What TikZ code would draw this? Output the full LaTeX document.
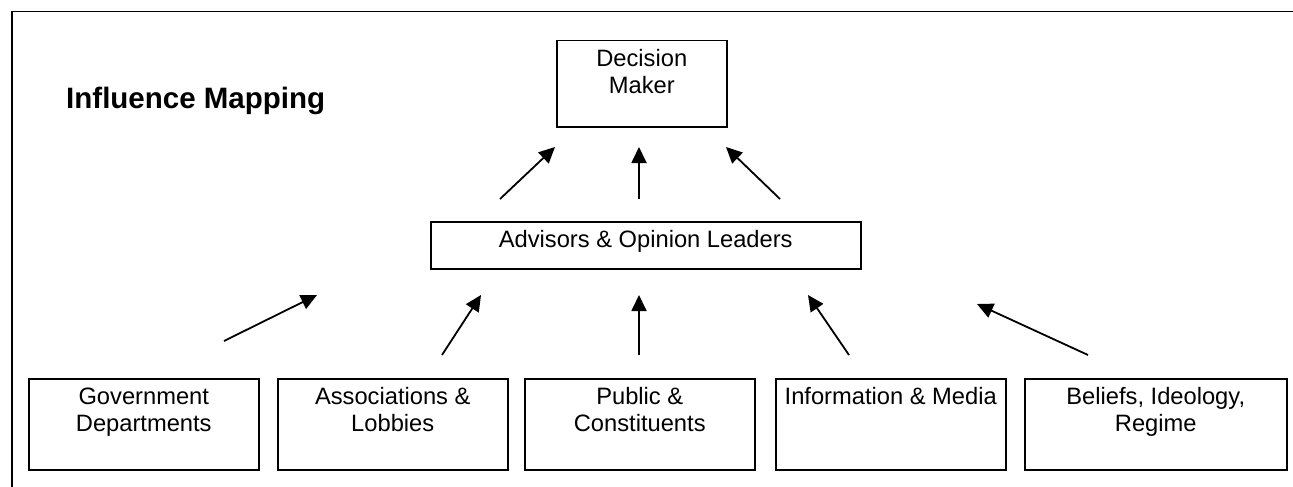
\documentclass[tikz,border=0pt]{standalone}
\usepackage{fontspec}
\setmainfont{Liberation Sans}
\usetikzlibrary{arrows.meta}
\newcommand{\boxtext}[3]{\parbox[t][#2pt][t]{#1pt}{\centering\rule{0pt}{26pt}#3}}
\tikzset{
  box/.style={draw, line width=1.5pt, inner sep=0pt, anchor=north west,
    font=\fontsize{23.7}{27}\selectfont},
  influence/.style={-{Triangle[length=16pt,width=15pt]}, line width=1.8pt},
}
\begin{document}
\begin{tikzpicture}[x=1pt, y=-1pt]
      \useasboundingbox (0,0) rectangle (1293,487);
      \draw[line width=1.5pt] (12,487) -- (12,11.5) -- (1293,11.5);
      \node[anchor=base west, inner sep=0pt, font=\bfseries\fontsize{29.5}{34}\selectfont]
        (title) at (66,108) {Influence Mapping};
      \node[box] (dm) at (556,40) {\boxtext{170}{86}{Decision\\Maker}};
      \node[box] (adv) at (430,221) {\boxtext{430}{47}{Advisors \& Opinion Leaders}};
      \node[box] (gov) at (28,378) {\boxtext{230}{91}{Government\\Departments}};
      \node[box] (assoc) at (277,378) {\boxtext{230}{91}{Associations \&\\Lobbies}};
      \node[box] (pub) at (524,378) {\boxtext{230}{91}{Public \&\\Constituents}};
      \node[box] (info) at (775,378) {\boxtext{230}{91}{Information \& Media}};
      \node[box] (bel) at (1024,378) {\boxtext{262}{91}{Beliefs, Ideology,\\Regime}};
      \coordinate (t1) at (500,199);  \coordinate (h1) at (555,147);
      \coordinate (t2) at (639,199);  \coordinate (h2) at (639,147);
      \coordinate (t3) at (780,199);  \coordinate (h3) at (726,147);
      \coordinate (t4) at (224,341);  \coordinate (h4) at (317,295);
      \coordinate (t5) at (442,355);  \coordinate (h5) at (481,295);
      \coordinate (t6) at (639,355);  \coordinate (h6) at (639,295);
      \coordinate (t7) at (849,355);  \coordinate (h7) at (808,295);
      \coordinate (t8) at (1088,355); \coordinate (h8) at (977,304);
      \begin{scope}[influence]
        \draw (t1) to (h1);
        \draw (t2) to (h2);
        \draw (t3) to (h3);
        \draw (t4) to (h4);
        \draw (t5) to (h5);
        \draw (t6) to (h6);
        \draw (t7) to (h7);
        \draw (t8) to (h8);
      \end{scope}
    \end{tikzpicture}
\end{document}
